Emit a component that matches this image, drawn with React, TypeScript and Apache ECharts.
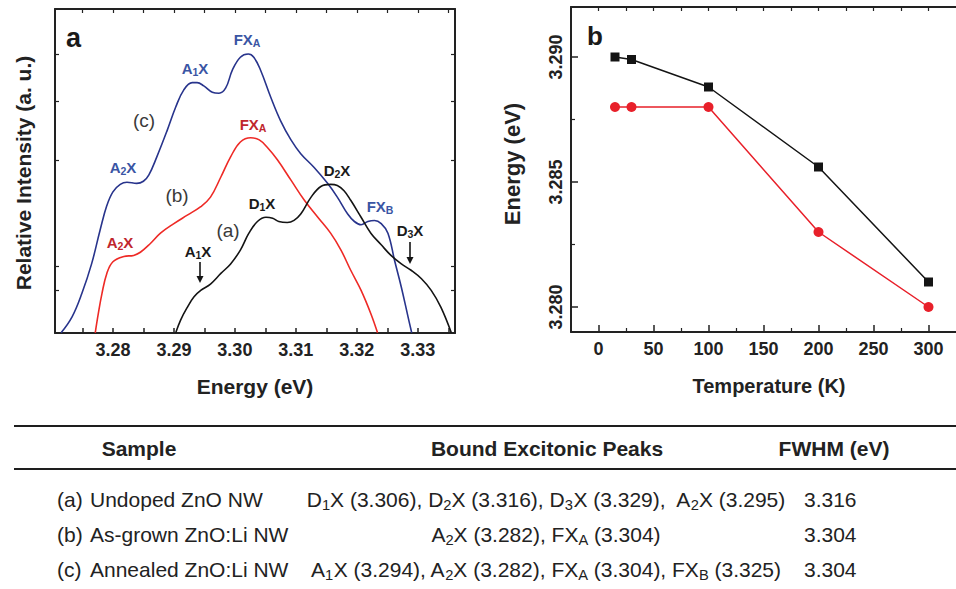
import React, { useEffect, useRef } from "react";
import * as echarts from "echarts";

// ---------- Panel a: PL spectra (energy eV, relative intensity a.u.) ----------
const curveA_undoped: [number, number][] = [
  [3.2903, 0.37], [3.2911, 0.49], [3.2922, 0.61], [3.2933, 0.71], [3.2944, 0.77],
  [3.2960, 0.83], [3.2977, 0.93], [3.2993, 1.02], [3.3009, 1.15], [3.3023, 1.31],
  [3.3037, 1.42], [3.3051, 1.46], [3.3062, 1.45], [3.3072, 1.42], [3.3086, 1.41],
  [3.3097, 1.43], [3.3108, 1.49], [3.3125, 1.65], [3.3141, 1.75], [3.3157, 1.77],
  [3.3168, 1.76], [3.3179, 1.71], [3.3190, 1.62], [3.3207, 1.46], [3.3223, 1.31],
  [3.3240, 1.20], [3.3256, 1.10], [3.3273, 1.02], [3.3289, 0.96], [3.3306, 0.88],
  [3.3322, 0.77], [3.3338, 0.61], [3.3355, 0.37],
];
const curveB_asGrown: [number, number][] = [
  [3.2771, 0.37], [3.2776, 0.55], [3.2782, 0.74], [3.2790, 0.93], [3.2800, 1.04],
  [3.2818, 1.09], [3.2834, 1.10], [3.2845, 1.13], [3.2861, 1.21], [3.2878, 1.31],
  [3.2900, 1.40], [3.2922, 1.48], [3.2944, 1.56], [3.2960, 1.65], [3.2977, 1.84],
  [3.2993, 2.03], [3.3009, 2.17], [3.3026, 2.21], [3.3040, 2.19], [3.3053, 2.12],
  [3.3070, 2.00], [3.3092, 1.81], [3.3114, 1.62], [3.3136, 1.46], [3.3157, 1.31],
  [3.3174, 1.15], [3.3190, 0.96], [3.3207, 0.77], [3.3223, 0.55], [3.3234, 0.37],
];
const curveC_annealed: [number, number][] = [
  [3.2715, 0.37], [3.2733, 0.52], [3.2749, 0.74], [3.2765, 1.02], [3.2779, 1.34],
  [3.2790, 1.57], [3.2800, 1.70], [3.2812, 1.77], [3.2823, 1.79], [3.2839, 1.78],
  [3.2850, 1.80], [3.2859, 1.86], [3.2872, 2.03], [3.2889, 2.28], [3.2903, 2.50],
  [3.2916, 2.66], [3.2930, 2.73], [3.2938, 2.73], [3.2949, 2.70], [3.2963, 2.64],
  [3.2974, 2.63], [3.2985, 2.68], [3.2996, 2.85], [3.3009, 2.97], [3.3022, 3.00],
  [3.3031, 2.97], [3.3042, 2.85], [3.3059, 2.59], [3.3075, 2.37], [3.3092, 2.19],
  [3.3108, 2.06], [3.3130, 1.93], [3.3152, 1.78], [3.3168, 1.65], [3.3185, 1.49],
  [3.3196, 1.42], [3.3207, 1.39], [3.3218, 1.42], [3.3229, 1.43], [3.3240, 1.40],
  [3.3251, 1.31], [3.3262, 1.05], [3.3273, 0.80], [3.3284, 0.52], [3.3290, 0.37],
];
const energyTicksA = [3.275, 3.28, 3.285, 3.29, 3.295, 3.3, 3.305, 3.31, 3.315, 3.32, 3.325, 3.33, 3.335];
const energyLabelsA = [3.28, 3.29, 3.3, 3.31, 3.32, 3.33];
const intensityTicks = [0.77, 1, 2, 2.55, 3];

// ---------- Panel b: peak energy vs temperature ----------
const temperatureK = [15, 30, 100, 200, 300];
const energyBlack = [3.29, 3.2899, 3.2888, 3.2856, 3.281];
const energyRed = [3.288, 3.288, 3.288, 3.283, 3.28];
const tempLabels = [0, 50, 100, 150, 200, 250, 300];
const tempMinorTicks = [25, 75, 125, 175, 225, 275];
const tempTopTicks = [0, 25, 50, 75, 100, 125, 150, 175, 200, 225, 250, 275, 300];
const energyLabelsB = [3.28, 3.285, 3.29];
const energyMinorB = [3.2825, 3.2875];

// ---------- Table ----------
const tableHeaders = ["Sample", "Bound Excitonic Peaks", "FWHM (eV)"];
const tableSampleTags = ["(a)", "(b)", "(c)"];
const tableSampleNames = ["Undoped ZnO NW", "As-grown ZnO:Li NW", "Annealed ZnO:Li NW"];
const tablePeaks = [
  "D{s|1}X (3.306), D{s|2}X (3.316), D{s|3}X (3.329),  A{s|2}X (3.295)",
  "A{s|2}X (3.282), FX{s|A} (3.304)",
  "A{s|1}X (3.294), A{s|2}X (3.282), FX{s|A} (3.304), FX{s|B} (3.325)",
];
const tableFwhm = ["3.316", "3.304", "3.304"];

const FONT = "Liberation Sans, Arial, Helvetica, sans-serif";
const AXIS = "#222";
const BLUE_LINE = "#28348c";
const BLUE_TXT = "#3a55a4";
const RED_LINE = "#ee2a26";
const RED_TXT = "#bf262d";
const BLACK = "#141414";

function richText(x: number, y: number, text: string, size: number, weight: string, fill: string, align = "center") {
  const sub = Math.round(size * 0.7 * 10) / 10;
  const drop = Math.round(size * 0.26 * 10) / 10;
  return {
    type: "text",
    x,
    y,
    silent: true,
    style: {
      text,
      fontSize: size,
      fontWeight: weight,
      fontFamily: FONT,
      fill,
      lineHeight: size + 2,
      align,
      verticalAlign: "middle",
      rich: {
        s: {
          fontSize: sub,
          fontWeight: weight,
          fontFamily: FONT,
          fill,
          padding: [drop * 2, 0, 0, 0],
        },
      },
    },
  };
}

function arrow(x: number, y1: number, y2: number) {
  return [
    { type: "line", silent: true, shape: { x1: x, y1, x2: x, y2: y2 - 4 }, style: { stroke: BLACK, lineWidth: 1.6 } },
    { type: "polygon", silent: true, shape: { points: [[x - 3.5, y2 - 7], [x + 3.5, y2 - 7], [x, y2]] }, style: { fill: BLACK } },
  ];
}

function plain(x: number, y: number, text: string, size: number, weight: string, rotation = 0) {
  return {
    type: "text", x, y, rotation, silent: true,
    style: { text, fontSize: size, fontWeight: weight, fontFamily: FONT, fill: "#222", align: "center", verticalAlign: "middle" },
  };
}

function buildOption() {
  const axisLine = { show: true, onZero: false, lineStyle: { color: AXIS, width: 2 } };
  const tickLabel = { fontSize: 18, fontWeight: "bold", fontFamily: FONT, color: "#222" };

  const graphic: any[] = [
    // panel letters
    { type: "text", x: 66, y: 38, silent: true, style: { text: "a", fontSize: 27, fontWeight: "bold", fontFamily: FONT, fill: "#1a1a1a", verticalAlign: "middle" } },
    { type: "text", x: 587, y: 36, silent: true, style: { text: "b", fontSize: 26, fontWeight: "bold", fontFamily: FONT, fill: "#1a1a1a", verticalAlign: "middle" } },
    // axis titles
    plain(23, 173, "Relative Intensity (a. u.)", 21, "bold", Math.PI / 2),
    plain(255, 386, "Energy (eV)", 21, "bold"),
    plain(512, 164, "Energy (eV)", 22, "bold", Math.PI / 2),
    plain(769, 386, "Temperature (K)", 20, "bold"),
    // peak labels
    richText(247, 39, "FX{s|A}", 15, "bold", BLUE_TXT),
    richText(195, 68, "A{s|1}X", 15, "bold", BLUE_TXT),
    richText(144, 120, "(c)", 19, "normal", "#3a3a3a"),
    richText(253, 124, "FX{s|A}", 15, "bold", RED_TXT),
    richText(123, 167, "A{s|2}X", 15, "bold", BLUE_TXT),
    richText(177, 195, "(b)", 19, "normal", "#3a3a3a"),
    richText(120, 242, "A{s|2}X", 15, "bold", RED_TXT),
    richText(337, 170, "D{s|2}X", 15, "bold", "#1a1a1a"),
    richText(262, 203, "D{s|1}X", 15, "bold", "#1a1a1a"),
    richText(228, 230, "(a)", 19, "normal", "#3a3a3a"),
    richText(380, 206, "FX{s|B}", 15, "bold", BLUE_TXT),
    richText(410, 230, "D{s|3}X", 15, "bold", "#1a1a1a"),
    richText(198, 251, "A{s|1}X", 15, "bold", "#1a1a1a"),
    ...arrow(200, 262, 283),
    ...arrow(410, 242, 264),
    // table rules
    { type: "rect", silent: true, shape: { x: 14, y: 425, width: 942, height: 2 }, style: { fill: "#1e1e1e" } },
    { type: "rect", silent: true, shape: { x: 14, y: 468, width: 942, height: 2 }, style: { fill: "#1e1e1e" } },
    // headers
    plain(139, 448, tableHeaders[0], 21, "bold"),
    plain(547, 448, tableHeaders[1], 21, "bold"),
    plain(834, 448, tableHeaders[2], 21, "bold"),
  ];
  const rowY = [499, 534, 569];
  tableSampleTags.forEach((tag, i) => {
    graphic.push(richText(57, rowY[i], tag, 21, "normal", "#222", "left"));
    graphic.push(richText(90, rowY[i], tableSampleNames[i], 21, "normal", "#222", "left"));
    graphic.push(richText(546, rowY[i], tablePeaks[i], 21, "normal", "#222"));
    graphic.push(richText(804, rowY[i], tableFwhm[i], 21, "normal", "#222", "left"));
  });

  return {
    animation: false,
    backgroundColor: "#ffffff",
    grid: [
      { left: 55, top: 9, width: 400, height: 324 },
      { left: 571, top: 7, width: 396, height: 325 },
    ],
    xAxis: [
      {
        gridIndex: 0, type: "value", position: "bottom", min: 3.2705, max: 3.3361,
        axisLine, splitLine: { show: false },
        axisTick: { inside: true, length: 5, customValues: energyTicksA, lineStyle: { color: AXIS, width: 1.5 } },
        axisLabel: { ...tickLabel, margin: 8, customValues: energyLabelsA, formatter: (v: number) => v.toFixed(2) },
      },
      {
        gridIndex: 0, type: "value", position: "top", min: 3.2705, max: 3.3361,
        axisLine, splitLine: { show: false },
        axisTick: { inside: true, length: 4, customValues: energyTicksA, lineStyle: { color: AXIS, width: 1.2 } },
        axisLabel: { show: false },
      },
      {
        gridIndex: 1, type: "value", position: "bottom", min: -25, max: 325,
        axisLine, splitLine: { show: false },
        axisTick: { inside: true, length: 7, customValues: tempLabels, lineStyle: { color: AXIS, width: 1.5 } },
        axisLabel: { ...tickLabel, margin: 8, customValues: tempLabels },
      },
      {
        gridIndex: 1, type: "value", position: "bottom", min: -25, max: 325,
        axisLine: { show: false, onZero: false }, splitLine: { show: false },
        axisTick: { inside: true, length: 4, customValues: tempMinorTicks, lineStyle: { color: AXIS, width: 1.2 } },
        axisLabel: { show: false },
      },
      {
        gridIndex: 1, type: "value", position: "top", min: -25, max: 325,
        axisLine, splitLine: { show: false },
        axisTick: { inside: true, length: 4, customValues: tempTopTicks, lineStyle: { color: AXIS, width: 1.2 } },
        axisLabel: { show: false },
      },
    ],
    yAxis: [
      {
        gridIndex: 0, type: "value", position: "left", min: 0.368, max: 3.425,
        axisLine, splitLine: { show: false },
        axisTick: { inside: true, length: 4, customValues: intensityTicks, lineStyle: { color: AXIS, width: 1.2 } },
        axisLabel: { show: false },
      },
      {
        gridIndex: 0, type: "value", position: "right", min: 0.368, max: 3.425,
        axisLine, splitLine: { show: false },
        axisTick: { inside: true, length: 4, customValues: intensityTicks, lineStyle: { color: AXIS, width: 1.2 } },
        axisLabel: { show: false },
      },
      {
        gridIndex: 1, type: "value", position: "left", min: 3.279, max: 3.292,
        axisLine, splitLine: { show: false },
        axisTick: { inside: true, length: 7, customValues: energyLabelsB, lineStyle: { color: AXIS, width: 1.5 } },
        axisLabel: { ...tickLabel, rotate: 90, margin: 6, customValues: energyLabelsB, formatter: (v: number) => v.toFixed(3) },
      },
      {
        gridIndex: 1, type: "value", position: "left", min: 3.279, max: 3.292,
        axisLine: { show: false, onZero: false }, splitLine: { show: false },
        axisTick: { inside: true, length: 4, customValues: energyMinorB, lineStyle: { color: AXIS, width: 1.2 } },
        axisLabel: { show: false },
      },
    ],
    series: [
      {
        type: "line", xAxisIndex: 0, yAxisIndex: 0, data: curveC_annealed, smooth: 0.4, showSymbol: false,
        lineStyle: { color: BLUE_LINE, width: 1.6 }, itemStyle: { color: BLUE_LINE },
      },
      {
        type: "line", xAxisIndex: 0, yAxisIndex: 0, data: curveB_asGrown, smooth: 0.4, showSymbol: false,
        lineStyle: { color: RED_LINE, width: 1.6 }, itemStyle: { color: RED_LINE },
      },
      {
        type: "line", xAxisIndex: 0, yAxisIndex: 0, data: curveA_undoped, smooth: 0.4, showSymbol: false,
        lineStyle: { color: BLACK, width: 1.6 }, itemStyle: { color: BLACK },
      },
      {
        type: "line", xAxisIndex: 2, yAxisIndex: 2, data: temperatureK.map((t, i) => [t, energyBlack[i]]),
        symbol: "rect", symbolSize: 9, lineStyle: { color: BLACK, width: 1.5 }, itemStyle: { color: BLACK },
      },
      {
        type: "line", xAxisIndex: 2, yAxisIndex: 2, data: temperatureK.map((t, i) => [t, energyRed[i]]),
        symbol: "circle", symbolSize: 10, lineStyle: { color: "#e8202a", width: 1.5 }, itemStyle: { color: "#e8202a" },
      },
    ],
    graphic,
  };
}

export default function App() {
  const ref = useRef<HTMLDivElement>(null);
  useEffect(() => {
    if (!ref.current) return;
    const chart = echarts.init(ref.current, null, { renderer: "svg" });
    chart.setOption(buildOption() as any);
    return () => chart.dispose();
  }, []);
  return (
    <div
      ref={ref}
      style={{ position: "absolute", left: 0, top: 0, width: 956, height: 589, background: "#fff" }}
    />
  );
}
